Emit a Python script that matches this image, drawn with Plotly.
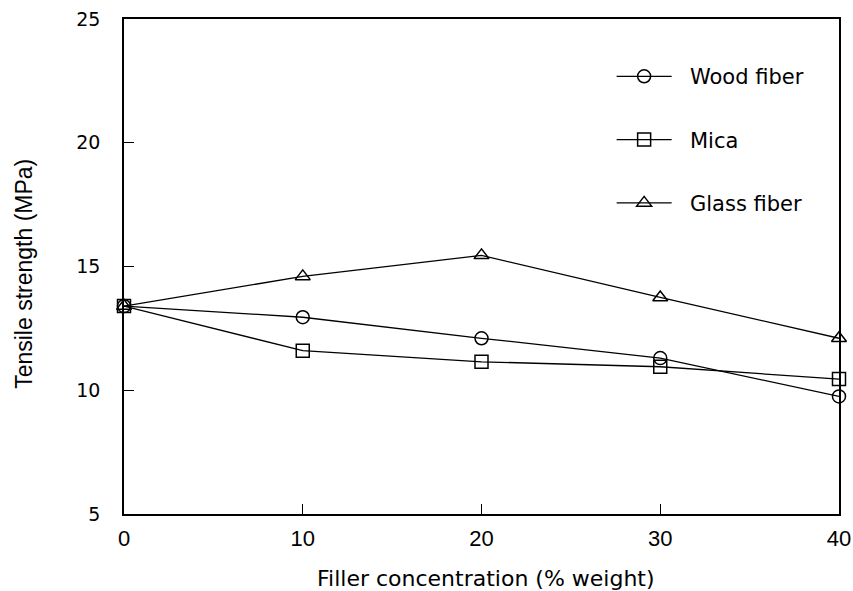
import plotly.graph_objects as go

concentration = [0, 10, 20, 30, 40]
wood_fiber = [13.4, 12.95, 12.1, 11.3, 9.75]
mica = [13.4, 11.6, 11.15, 10.95, 10.45]
glass_fiber = [13.4, 14.6, 15.45, 13.75, 12.1]

x_ticks = [0, 10, 20, 30, 40]
y_ticks = [5, 10, 15, 20, 25]

series = [
    ("Wood fiber", wood_fiber, "circle-open"),
    ("Mica", mica, "square-open"),
    ("Glass fiber", glass_fiber, "triangle-up-open"),
]

fig = go.Figure()
for name, vals, sym in series:
    fig.add_trace(go.Scatter(
        x=concentration, y=vals, name="\u00a0\u00a0" + name, mode="lines+markers",
        legendgroup=name,
        line=dict(color="black", width=1.3),
        marker=dict(symbol=sym, size=13, color="black", line=dict(width=1.5, color="black")),
        cliponaxis=False,
    ))

fig.update_layout(
    width=853, height=591,
    margin=dict(l=124, r=14, t=19, b=77, autoexpand=False),
    paper_bgcolor="white", plot_bgcolor="white",
    font=dict(family="DejaVu Sans, sans-serif", color="black", size=20),
    showlegend=True,
    legend=dict(x=0.682, y=0.925, xanchor="left", yanchor="top",
                bgcolor="rgba(0,0,0,0)", tracegroupgap=33, itemwidth=55,
                font=dict(size=21, family="DejaVu Sans, sans-serif")),
    xaxis=dict(range=[0, 40], tickvals=x_ticks, ticks="inside", ticklen=10,
               tickwidth=1.3, tickcolor="black", showgrid=False, zeroline=False,
               showline=True, linecolor="black", linewidth=1.5, mirror=True,
               automargin=False,
               tickfont=dict(size=22, family="Liberation Sans Narrow, Liberation Sans, Arial"),
               ticklabelstandoff=4),
    yaxis=dict(range=[5, 25], tickvals=y_ticks, ticks="inside", ticklen=10,
               tickwidth=1.3, tickcolor="black", showgrid=False, zeroline=False,
               showline=True, linecolor="black", linewidth=1.5, mirror=True,
               automargin=False,
               tickfont=dict(size=19, family="DejaVu Sans, sans-serif"), ticklabelstandoff=18),
    annotations=[
        dict(text="Filler concentration (% weight)", xref="paper", yref="paper",
             x=0.506, y=-0.1293, xanchor="center", yanchor="middle", showarrow=False,
             font=dict(size=22, family="DejaVu Sans, sans-serif")),
        dict(text="Tensile strength (MPa)", xref="paper", yref="paper",
             x=-0.14, y=0.485, xanchor="center", yanchor="middle", showarrow=False,
             textangle=-90, font=dict(size=23, family="Liberation Sans, Arial, sans-serif")),
    ],
)

fig.write_html("out.html", config={"displayModeBar": False},
               post_script="document.body.style.margin='0';document.body.style.overflow='hidden';")
